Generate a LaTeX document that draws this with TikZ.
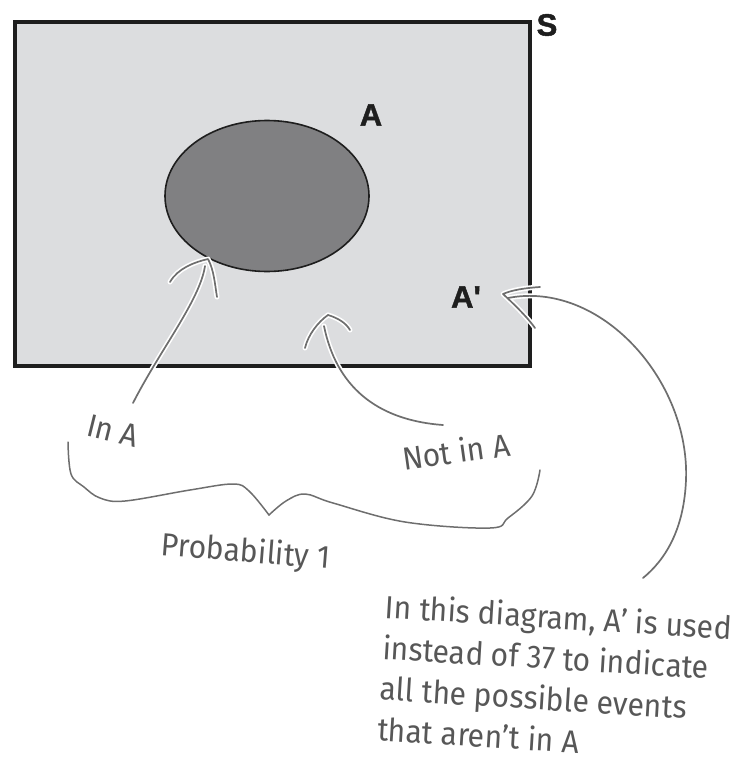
\documentclass[tikz,border=0pt]{standalone}
\usepackage{fontspec}
\usetikzlibrary{shapes.geometric}
\newfontfamily\hand[FakeStretch=0.94]{Fira Sans}
\newfontfamily\boldlab[FakeBold=1.4]{Liberation Sans Bold}
\definecolor{boxfill}{HTML}{DCDDDF}
\definecolor{setfill}{HTML}{808082}
\definecolor{ink}{HTML}{1E1E1E}
\definecolor{pen}{HTML}{6E6E6E}
\definecolor{handtext}{HTML}{575757}
\tikzset{
  halo/.style={draw=white, line width=5pt, line cap=round, line join=round},
  penline/.style={draw=pen, line width=1.7pt, line cap=round, line join=round},
  handlab/.style={font=\hand\fontsize{32}{41}\selectfont, text=handtext, inner sep=0pt},
  setlab/.style={font=\boldlab\fontsize{31}{31}\selectfont, text=ink, inner sep=0pt},
}
\begin{document}
\begin{tikzpicture}[x=1pt,y=-1pt]
\useasboundingbox (0,0) rectangle (743,774);
% sample space
\node[draw=ink, line width=3.6pt, fill=boxfill, minimum width=515pt, minimum height=344pt, inner sep=0pt, anchor=north west] (S) at (13,20) {};
\node[draw=ink, line width=1.6pt, fill=setfill, ellipse, minimum width=204pt, minimum height=151pt, inner sep=0pt] (Aset) at (267,196) {};
\node[setlab] (Slab) at (547,25) {S};
\node[setlab] (Alab) at (371,115) {A};
\node[setlab] (Aplab) at (466,297) {A\textquotesingle};
% text labels
\node[handlab, rotate=-14] (inA) at (113,431) {In A};
\node[handlab, rotate=8] (notinA) at (456,451) {Not in A};
\node[handlab, rotate=-4.5] (prob) at (246,553) {Probability 1};
\node[handlab, align=left, anchor=north west, rotate=-3.5] (note) at (386,593) {In this diagram, A’ is used\\instead of 37 to indicate\\all the possible events\\that aren’t in A};
% arrow points
\coordinate (t1) at (208,259);
\coordinate (t2) at (328,315);
\coordinate (t3) at (503,294);
\coordinate (s1) at (133,403);
\coordinate (s2) at (443,425);
\coordinate (s3) at (643,578);
% arrows: halo then pen
\foreach \sty in {halo,penline}{
  \draw[\sty] (s1) .. controls (160,350) and (200,300) .. (205,266);
  \draw[\sty] (170,282) .. controls (178,268) and (195,262) .. (t1) .. controls (214,270) and (215,285) .. (217,297);
  \draw[\sty] (t2) .. controls (318,322) and (308,335) .. (305,348);
  \draw[\sty] (t2) .. controls (338,318) and (346,323) .. (350,330);
  \draw[\sty] (324,326) .. controls (336,385) and (375,420) .. (s2);
  \draw[\sty] (540,287) .. controls (525,288) and (512,290) .. (t3) .. controls (515,305) and (528,318) .. (535,328);
  \draw[\sty] (508,298) .. controls (600,280) and (690,380) .. (686,480) .. controls (684,530) and (665,560) .. (s3);
}
% brace
\draw[penline, line width=1.5pt] plot[smooth, tension=0.6] coordinates {(68,442) (71,474) (84,487) (100,498) (125,501) (190,490) (233,484) (249,491) (269,515)};
\draw[penline, line width=1.5pt] plot[smooth, tension=0.6] coordinates {(269,515) (286,501) (305,494) (333,503) (405,522) (490,528) (508,518) (532,496) (540,470)};
\end{tikzpicture}
\end{document}
